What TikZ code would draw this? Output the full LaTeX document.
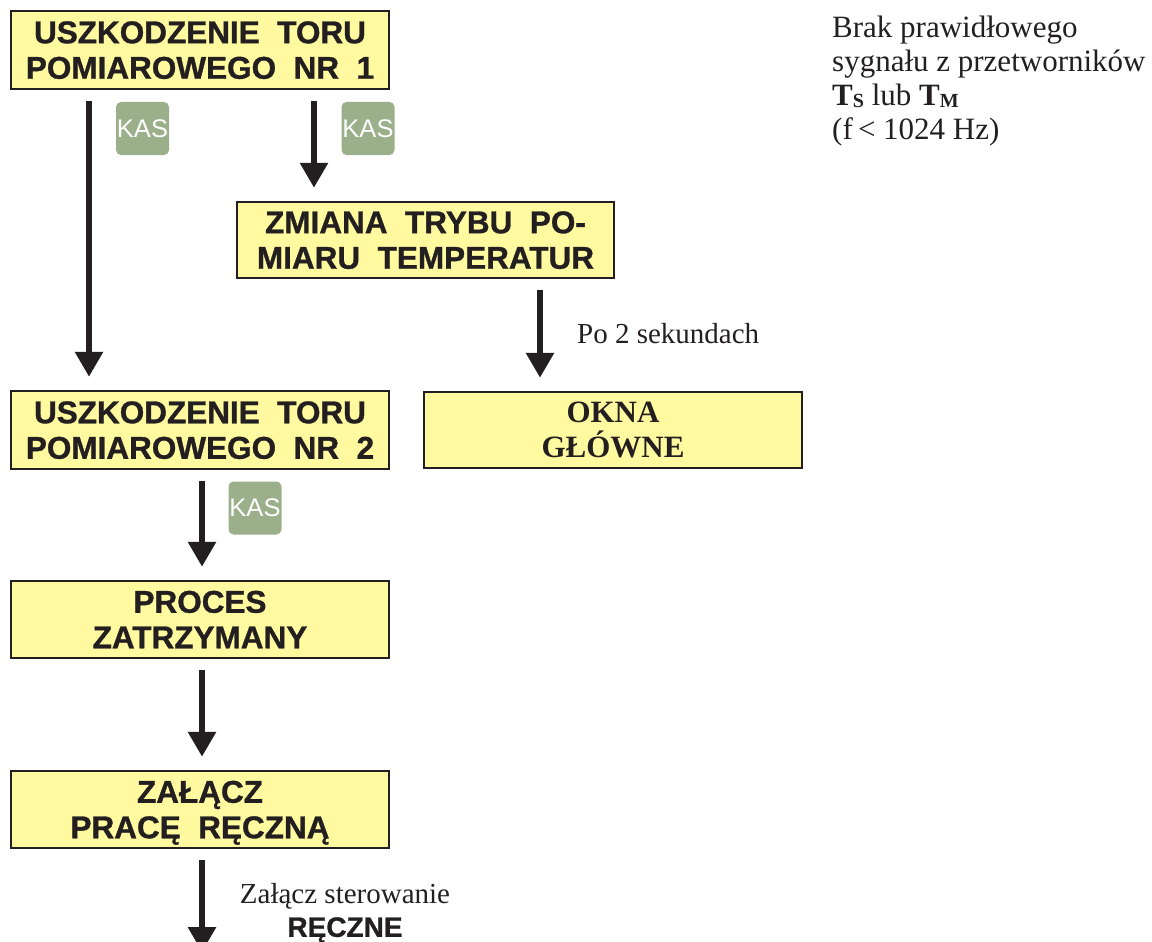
\documentclass[tikz,border=0pt]{standalone}
\usepackage{fontspec}
\setmainfont{Liberation Serif}
\setsansfont{Liberation Sans}
\newfontfamily\boxfont[FakeBold=1]{Liberation Sans Bold}
\usetikzlibrary{arrows.meta}
\definecolor{boxfill}{HTML}{FFFA9F}
\definecolor{ink}{HTML}{231F20}
\definecolor{kasgreen}{HTML}{9BB08A}

\begin{document}
\begin{tikzpicture}[x=1pt,y=-1pt,
  stepbox/.style={draw=ink, line width=2.5pt, fill=boxfill,
    minimum width=378pt, minimum height=78pt, inner sep=0pt,
    align=center, text=ink, text depth=0pt,
    font=\boxfont\fontsize{31.5}{35.5}\selectfont},
  serifbox/.style={stepbox, font=\rmfamily\bfseries\fontsize{31}{35}\selectfont},
  kas/.style={fill=kasgreen, rounded corners=5pt, minimum size=53pt,
    inner sep=0pt, text=white, font=\sffamily\fontsize{25.5}{25.5}\selectfont},
  flow/.style={draw=ink, line width=6pt,
    -{Triangle[length=25pt,width=27pt]}, shorten <=11pt, shorten >=13pt},
  note/.style={text=ink, inner sep=0pt, font=\rmfamily\fontsize{29}{34.5}\selectfont}
]
\useasboundingbox (0,0) rectangle (1152,942);

% process boxes
\node[stepbox] (fault1) at (200,50) {USZKODZENIE\ \ TORU\\POMIAROWEGO\ \ NR\ \ 1};
\node[stepbox, minimum width=377pt, minimum height=76pt] (mode) at (425.5,240)
  {ZMIANA\ \ TRYBU\ \ PO-\\MIARU\ \ TEMPERATUR};
\node[serifbox, minimum height=76pt] (main) at (613,430) {OKNA\\GŁÓWNE};
\node[stepbox] (fault2) at (200,430) {USZKODZENIE\ \ TORU\\POMIAROWEGO\ \ NR\ \ 2};
\node[stepbox, minimum height=77pt] (stop) at (200,619.5) {PROCES\\ZATRZYMANY};
\node[stepbox, minimum height=77pt] (manual) at (200,809.5) {ZAŁĄCZ\\PRACĘ\ \ RĘCZNĄ};

% key markers
\node[kas] (kas1) at (142.5,128.5) {\raisebox{-2pt}{KAS}};
\node[kas] (kas2) at (368,128.5) {\raisebox{-2pt}{KAS}};
\node[kas] (kas3) at (255,508) {\raisebox{-2pt}{KAS}};

% horizontal positions of the connectors
\coordinate (xa) at (89,0);
\coordinate (xb) at (314,0);
\coordinate (xc) at (540,0);
\coordinate (xd) at (202,0);
\coordinate (tail) at (202,952);

\draw[flow] (fault1.south -| xa) -- (fault2.north -| xa);
\draw[flow] (fault1.south -| xb) -- (mode.north -| xb);
\draw[flow] (mode.south -| xc) -- (main.north -| xc);
\draw[flow] (fault2.south -| xd) -- (stop.north -| xd);
\draw[flow] (stop.south -| xd) -- (manual.north -| xd);
\draw[flow, shorten >=0pt] (manual.south -| xd) -- (tail);

% labels
\node[note, anchor=base west] (wait) at (577,343) {Po 2 sekundach};
\node[note, align=center, anchor=north] (hint) at (345,883)
  {Załącz sterowanie\\[-1pt]{\boxfont\fontsize{28}{28}\selectfont RĘCZNE}};
\node[note, align=left, anchor=north west, font=\rmfamily\fontsize{31}{34}\selectfont]
  (cause) at (832,16)
  {Brak prawidłowego\\sygnału z przetworników\\
   \textbf{T}\raisebox{-2pt}{\fontsize{20}{20}\selectfont\bfseries S} lub
   \textbf{T}\raisebox{-2pt}{\fontsize{20}{20}\selectfont\bfseries M}\\
   (f\,< 1024 Hz)};
\end{tikzpicture}
\end{document}
